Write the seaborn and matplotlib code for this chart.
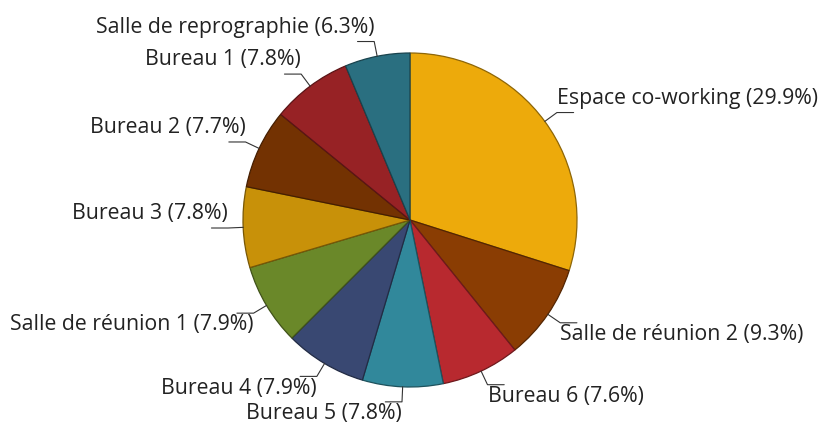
import numpy as np
import matplotlib.pyplot as plt
import matplotlib.colors as mcolors
import seaborn as sns

sns.set_theme(style='white')
plt.rcParams['font.family'] = ['Open Sans', 'DejaVu Sans']

espaces = ['Espace co-working', 'Salle de réunion 2', 'Bureau 6', 'Bureau 5', 'Bureau 4',
           'Salle de réunion 1', 'Bureau 3', 'Bureau 2', 'Bureau 1', 'Salle de reprographie']
parts = [29.9, 9.3, 7.6, 7.8, 7.9, 7.9, 7.8, 7.7, 7.8, 6.3]
couleurs = ['#EDAA0B', '#8A3D03', '#B8292F', '#31889B', '#394872',
            '#6A8829', '#C89109', '#733202', '#972225', '#2A6F80']

palette = sns.color_palette(couleurs)

fig = plt.figure(figsize=(8.22, 4.23), dpi=100)
ax = fig.add_axes([0, 0, 1, 1])

wedges, _ = ax.pie(parts, colors=palette, startangle=90, counterclock=False,
                   radius=1, center=(0, 0), wedgeprops=dict(linewidth=0.9))
for w, c in zip(wedges, palette):
    sombre = tuple(np.array(mcolors.to_rgb(c)) * 0.6)
    w.set_edgecolor(sombre)

# pie() impose ses propres limites : on les remet après
R = 167  # rayon en pixels
ax.set_xlim(-410 / R, (822 - 410) / R)
ax.set_ylim(-(423 - 220) / R, 220 / R)
ax.set_aspect('equal')
ax.axis('off')

for w, nom, p in zip(wedges, espaces, parts):
    ang = np.deg2rad((w.theta1 + w.theta2) / 2)
    cx, cy = np.cos(ang), np.sin(ang)
    ex, ey = 1.09 * cx, 1.09 * cy
    droite = cx > 0.02
    sens = 1 if droite else -1
    fin = ex + sens * 0.1
    ax.plot([cx, ex, fin], [cy, ey, ey], color='#333333', lw=0.8, zorder=1)
    haut = cy > -0.1
    ax.annotate(f'{nom} ({p}%)', xy=(ex, ey),
                xytext=(0, 2.8 if haut else -0.8), textcoords='offset points',
                ha='left' if droite else 'right',
                va='bottom' if haut else 'top',
                fontsize=15.3, color='#222222')

plt.savefig('out.png', dpi=100)
